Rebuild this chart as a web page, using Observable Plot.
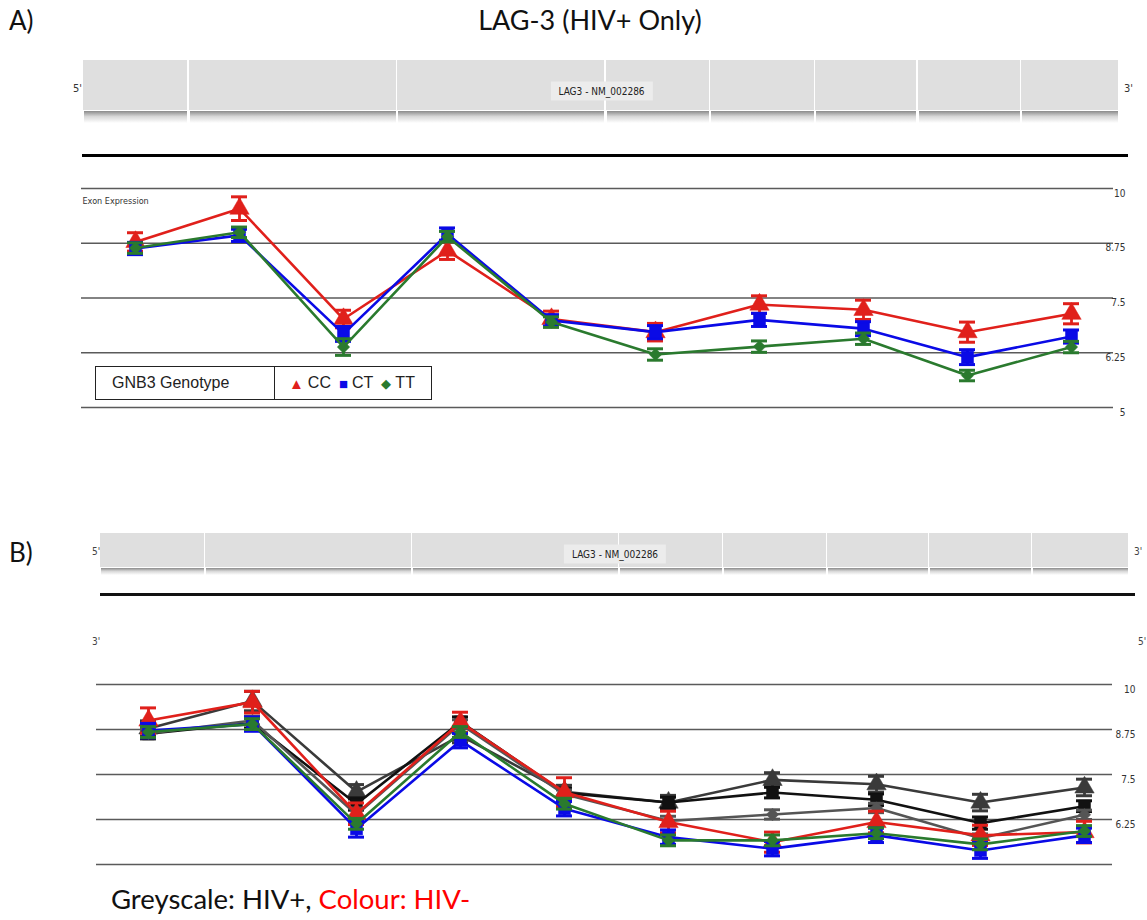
<!DOCTYPE html>
<html><head><meta charset="utf-8">
<script src="https://cdn.jsdelivr.net/npm/d3@7"></script>
<script src="https://cdn.jsdelivr.net/npm/@observablehq/plot@0.6"></script>
<style>
body{margin:0;background:#fff;}
#root{position:relative;width:1147px;height:920px;overflow:hidden;font-family:Lato,"Open Sans",sans-serif;color:#111;}
.abs{position:absolute;}
.small{font-family:"Liberation Sans Narrow","DejaVu Sans Condensed","Liberation Sans",sans-serif;font-size:10px;color:#333;}
</style></head><body><div id="root"></div>
<script>
// ---------- data ----------
const exons = [1,2,3,4,5,6,7,8,9,10];
const genotypes = ["CC","CT","TT"];
// HIV+ (panel A, greyscale in panel B)
const hivPos_CC = [8.78, 9.54, 7.02, 8.58, 7.02, 6.72, 7.35, 7.23, 6.72, 7.14];
const hivPos_CT = [8.63, 8.93, 6.68, 8.96, 6.99, 6.72, 7.00, 6.80, 6.15, 6.62];
const hivPos_TT = [8.64, 9.00, 6.38, 8.90, 6.95, 6.21, 6.39, 6.57, 5.73, 6.38];
const hivPos_CC_err = [0.21, 0.27, 0.20, 0.20, 0.18, 0.20, 0.20, 0.22, 0.23, 0.23];
const hivPos_CT_err = [0.14, 0.14, 0.17, 0.14, 0.13, 0.15, 0.15, 0.16, 0.17, 0.15];
const hivPos_TT_err = [0.12, 0.12, 0.19, 0.12, 0.12, 0.13, 0.13, 0.13, 0.12, 0.13];
// HIV- (colour in panel B)
const hivNeg_CC = [9.00, 9.51, 6.41, 8.95, 7.01, 6.18, 5.62, 6.18, 5.81, 5.90];
const hivNeg_CT = [8.72, 8.90, 5.99, 8.44, 6.55, 5.76, 5.44, 5.81, 5.39, 5.81];
const hivNeg_TT = [8.68, 8.90, 6.13, 8.68, 6.69, 5.67, 5.67, 5.87, 5.56, 5.93];
const hivNeg_CC_err = [0.35, 0.30, 0.30, 0.28, 0.40, 0.30, 0.28, 0.30, 0.28, 0.30];
const hivNeg_CT_err = [0.20, 0.20, 0.23, 0.20, 0.20, 0.20, 0.20, 0.20, 0.22, 0.20];
const hivNeg_TT_err = [0.15, 0.15, 0.15, 0.15, 0.15, 0.15, 0.15, 0.15, 0.15, 0.15];
// y ticks
const yTicks = [5, 6.25, 7.5, 8.75, 10];
const yTickLabelsA = ["5", "6.25", "7.5", "8.75", "10"];
const yTickLabelsB = ["", "6.25", "7.5", "8.75", "10"];
// gene model segment boundaries (fraction of transcript)
const geneBounds = [0, 0.102, 0.303, 0.504, 0.605, 0.706, 0.805, 0.905, 1.0];
const geneLabel = "LAG3 - NM_002286";

// ---------- styles ----------
const colour = {CC: "#e0201b", CT: "#0a0ae6", TT: "#2a7a2e"};
const grey = {CC: "#3a3a3a", CT: "#111111", TT: "#555555"};
const shape = {CC: "triangle", CT: "square", TT: "diamond2"};
const radius = {CC: 7.2, CT: 6.8, TT: 5.6};

function rows(vals, errs, g) {
  return exons.map((e, i) => ({exon: e, genotype: g, value: vals[i], err: errs[i]}));
}
const seriesPos = {
  CC: rows(hivPos_CC, hivPos_CC_err, "CC"),
  CT: rows(hivPos_CT, hivPos_CT_err, "CT"),
  TT: rows(hivPos_TT, hivPos_TT_err, "TT")
};
const seriesNeg = {
  CC: rows(hivNeg_CC, hivNeg_CC_err, "CC"),
  CT: rows(hivNeg_CT, hivNeg_CT_err, "CT"),
  TT: rows(hivNeg_TT, hivNeg_TT_err, "TT")
};

function seriesMarks(data, color, g, capInset) {
  return [
    Plot.line(data, {x: "exon", y: "value", stroke: color, strokeWidth: 2.6}),
    Plot.ruleX(data, {x: "exon", y1: d => d.value - d.err, y2: d => d.value + d.err, stroke: color, strokeWidth: 2.8}),
    Plot.tickY(data, {x: "exon", y: d => d.value + d.err, stroke: color, strokeWidth: 3, insetLeft: capInset, insetRight: capInset}),
    Plot.tickY(data, {x: "exon", y: d => d.value - d.err, stroke: color, strokeWidth: 3, insetLeft: capInset, insetRight: capInset}),
    Plot.dot(data, {x: "exon", y: "value", symbol: shape[g], fill: color, stroke: color, strokeWidth: 0.5, r: radius[g]})
  ];
}

function chart({height, marginTop, marginBottom, marginLeft, marginRight, gridInset, labels, labelPad, groups, exonLabel}) {
  const marks = [
    Plot.ruleY(yTicks, {stroke: "#5a5a5a", strokeWidth: 1.7, insetRight: gridInset}),
    Plot.axisY(yTicks, {anchor: "right", tickSize: 0, tickPadding: labelPad, textAnchor: "end", dy: 5,
      tickFormat: (d, i) => labels[yTicks.indexOf(d)], fontSize: 10, fill: "#333",
      fontFamily: "Liberation Sans Narrow, DejaVu Sans Condensed, sans-serif", label: null})
  ];
  if (exonLabel) marks.push(Plot.text([exonLabel], {frameAnchor: "top-left", lineAnchor: "middle", dy: 13, dx: 1, textAnchor: "start",
    fontSize: 9, fill: "#333", fontFamily: "Liberation Sans Narrow, DejaVu Sans Condensed, sans-serif"}));
  for (const grp of groups) for (const g of genotypes) marks.push(...seriesMarks(grp.data[g], grp.color[g], g, 44));
  return Plot.plot({
    width: 1147, height, marginTop, marginBottom, marginLeft, marginRight,
    x: {type: "band", domain: exons, padding: 0, axis: null},
    y: {domain: [5, 10], axis: null},
    style: {background: "transparent", overflow: "visible"},
    marks
  });
}

const root = document.getElementById("root");
function addText(txt, left, top, style) {
  const d = document.createElement("div");
  d.className = "abs"; d.style.left = left + "px"; d.style.top = top + "px";
  d.style.whiteSpace = "nowrap";
  Object.assign(d.style, style || {});
  d.innerHTML = txt; root.appendChild(d); return d;
}
function geneTrack(left, top, width, height, shadow) {
  const wrap = document.createElement("div");
  wrap.className = "abs";
  Object.assign(wrap.style, {left: left + "px", top: top + "px", width: width + "px", height: (height + shadow) + "px"});
  for (let i = 0; i < geneBounds.length - 1; i++) {
    const x0 = geneBounds[i] * width, x1 = geneBounds[i + 1] * width;
    const seg = document.createElement("div");
    seg.className = "abs";
    Object.assign(seg.style, {left: x0 + "px", top: "0px", width: (x1 - x0 - 1.5) + "px", height: height + "px", background: "#dfdfdf"});
    wrap.appendChild(seg);
    const sh = document.createElement("div");
    sh.className = "abs";
    Object.assign(sh.style, {left: (x0 + 1) + "px", top: (height + 1) + "px", width: (x1 - x0 - 2.5) + "px", height: shadow + "px",
      background: "linear-gradient(#8a8a8a, #d6d6d6 45%, #ffffff)"});
    wrap.appendChild(sh);
  }
  const lab = document.createElement("div");
  lab.className = "abs small";
  Object.assign(lab.style, {left: "50%", top: "50%", transform: "translate(-50%,-50%)", background: "#ececec", padding: "4px 8px", whiteSpace: "nowrap", color: "#222"});
  lab.textContent = geneLabel;
  wrap.appendChild(lab);
  root.appendChild(wrap);
}

// ---------- Panel A ----------
addText("A)", 9, 4, {fontSize: "26px"});
addText("LAG-3 (HIV+ Only)", 590, 3, {fontSize: "27px", transform: "translateX(-50%)"});
geneTrack(83, 60, 1037, 50, 12);
addText("5'", 73, 82, {fontSize: "11px", fontFamily: "Liberation Sans Narrow, DejaVu Sans Condensed, sans-serif", color: "#333"});
addText("3'", 1124, 82, {fontSize: "11px", fontFamily: "Liberation Sans Narrow, DejaVu Sans Condensed, sans-serif", color: "#333"});
addText("", 82, 154, {width: "1046px", height: "3px", background: "#000"});

const svgA = chart({height: 250, marginTop: 18, marginBottom: 13, marginLeft: 81, marginRight: 23, gridInset: 11,
  labels: yTickLabelsA, labelPad: 1, exonLabel: "Exon Expression",
  groups: [{data: seriesPos, color: colour}]});
const boxA = document.createElement("div"); boxA.className = "abs"; boxA.style.left = "0px"; boxA.style.top = "170px";
boxA.appendChild(svgA); root.appendChild(boxA);

// legend A
const leg = document.createElement("div");
leg.className = "abs";
Object.assign(leg.style, {left: "95px", top: "366px", width: "335px", height: "32px", border: "1.5px solid #222", background: "#fff",
  fontFamily: "'Liberation Sans', Arial, sans-serif", fontSize: "16px", color: "#222", display: "flex", alignItems: "center"});
leg.innerHTML = `<div style="width:179px;height:100%;border-right:1.5px solid #222;display:flex;align-items:center;padding-left:16px;box-sizing:border-box">GNB3 Genotype</div>` +
  `<div style="padding-left:14px;display:flex;align-items:center">` +
  genotypes.map(g => `<span style="color:${colour[g]};font-size:${g === "TT" ? 13 : 15}px;margin-right:4px">${g === "CC" ? "▲" : g === "CT" ? "■" : "◆"}</span><span style="margin-right:8px">${g}</span>`).join("") +
  `</div>`;
root.appendChild(leg);

// ---------- Panel B ----------
addText("B)", 9, 536, {fontSize: "26px"});
geneTrack(100, 533, 1030, 34, 7);
addText("5'", 92, 546, {fontSize: "10px", fontFamily: "Liberation Sans Narrow, DejaVu Sans Condensed, sans-serif", color: "#444"});
addText("3'", 1134, 546, {fontSize: "10px", fontFamily: "Liberation Sans Narrow, DejaVu Sans Condensed, sans-serif", color: "#444"});
addText("", 100, 593, {width: "1035px", height: "3px", background: "#111"});
addText("3'", 92, 636, {fontSize: "10px", fontFamily: "Liberation Sans Narrow, DejaVu Sans Condensed, sans-serif", color: "#444"});
addText("5'", 1138, 636, {fontSize: "10px", fontFamily: "Liberation Sans Narrow, DejaVu Sans Condensed, sans-serif", color: "#444"});

const svgB = chart({height: 220, marginTop: 24, marginBottom: 16, marginLeft: 96, marginRight: 11, gridInset: 24,
  labels: yTickLabelsB, labelPad: -1, exonLabel: null,
  groups: [{data: seriesPos, color: grey}, {data: seriesNeg, color: colour}]});
const boxB = document.createElement("div"); boxB.className = "abs"; boxB.style.left = "0px"; boxB.style.top = "660px";
boxB.appendChild(svgB); root.appendChild(boxB);

addText('Greyscale: HIV+, <span style="color:#ff0000">Colour: HIV-</span>', 111, 882, {fontSize: "27.5px", color: "#111"});
</script></body></html>
